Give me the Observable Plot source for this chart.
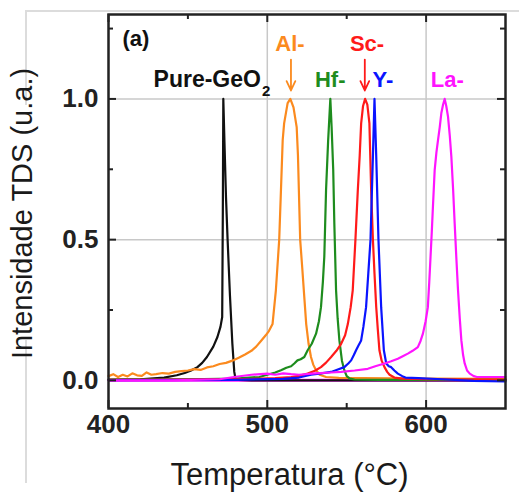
<!DOCTYPE html>
<html>
<head>
<meta charset="utf-8">
<script src="https://cdn.jsdelivr.net/npm/d3@7"></script>
<script src="https://cdn.jsdelivr.net/npm/@observablehq/plot@0.6"></script>
<style>
  html, body { margin: 0; padding: 0; background: #fff; }
  #wrap { position: relative; width: 519px; height: 502px; font-family: "Liberation Sans", Arial, sans-serif; }
  #edgeTop { position: absolute; left: 25px; top: 10px; width: 494px; height: 93px; border-left: 2px solid #dcdcdc; border-top: 2px solid #dcdcdc; }
  #edgeLow { position: absolute; left: 25px; top: 340px; width: 0; height: 143px; border-left: 2px solid #dcdcdc; }
  #chart { position: absolute; left: 0; top: 0; }
</style>
</head>
<body>
<div id="wrap"><div id="edgeTop"></div><div id="edgeLow"></div><div id="chart"></div></div>
<script>
// Pure-GeO2 (black)
const tempPure = [400, 420, 435, 443, 448, 452, 456, 459, 462, 466, 468.6, 470.5, 471.6, 472, 472.3, 473, 474, 475, 476.5, 478, 479.2, 480, 482, 490, 520, 560, 600, 650];
const intPure  = [0.002, 0.004, 0.01, 0.018, 0.026, 0.035, 0.047, 0.062, 0.083, 0.12, 0.154, 0.19, 0.225, 0.6, 1.0, 0.85, 0.65, 0.5, 0.3, 0.13, 0.03, 0.005, 0.002, 0, 0, 0, 0, 0];
// Al- (orange)
const tempAl = [400, 403, 406, 409, 412, 415, 418, 421, 424, 427, 430, 434, 438, 442, 446, 450, 454, 458, 462, 466, 470, 474, 478, 482, 486, 490, 493, 496, 499, 501, 503.3, 505.4, 507.5, 508.6, 509.7, 510.6, 512.8, 514.5, 516.5, 518.5, 519.3, 520, 520.7, 522, 523.5, 524.5, 526, 527.5, 529, 530.7, 533, 537, 545, 560, 600, 650];
const intAl  = [0.015, 0.022, 0.012, 0.02, 0.014, 0.025, 0.018, 0.016, 0.028, 0.02, 0.022, 0.026, 0.024, 0.03, 0.033, 0.035, 0.04, 0.037, 0.046, 0.05, 0.058, 0.062, 0.07, 0.08, 0.092, 0.105, 0.12, 0.14, 0.16, 0.175, 0.2, 0.32, 0.5, 0.676, 0.854, 0.913, 0.985, 1.0, 0.97, 0.9, 0.8, 0.65, 0.5, 0.4, 0.28, 0.2, 0.13, 0.083, 0.055, 0.036, 0.02, 0.012, 0.009, 0.008, 0.006, 0.005];
// Hf- (green)
const tempHf = [400, 450, 480, 495, 500, 505, 508.6, 512, 515, 517, 519, 521, 523.3, 525.4, 528, 530.7, 532.5, 533.8, 535, 535.9, 537, 538.3, 539.7, 540.5, 541.5, 542.2, 543.3, 544.3, 545.4, 547, 548.5, 550, 552, 555, 570, 600, 650];
const intHf  = [0.003, 0.004, 0.006, 0.012, 0.02, 0.028, 0.036, 0.045, 0.05, 0.06, 0.071, 0.075, 0.083, 0.107, 0.13, 0.166, 0.21, 0.26, 0.35, 0.44, 0.676, 0.85, 1.0, 0.9, 0.75, 0.56, 0.32, 0.22, 0.142, 0.07, 0.036, 0.015, 0.006, 0.003, 0.002, 0.002, 0.002];
// Sc- (red)
const tempSc = [400, 450, 490, 505, 515, 520, 525.4, 530, 533.8, 537, 540.2, 543.5, 546.5, 549, 550.7, 552.5, 553.8, 555.5, 557, 558.2, 559.1, 560.3, 561.6, 563, 564.3, 565.4, 566.5, 567.5, 568.6, 569.6, 570.6, 572, 573.8, 575.5, 577, 580, 585, 600, 650];
const intSc  = [0.002, 0.003, 0.005, 0.008, 0.012, 0.016, 0.024, 0.034, 0.047, 0.063, 0.083, 0.105, 0.13, 0.16, 0.2, 0.26, 0.32, 0.5, 0.676, 0.8, 0.913, 0.975, 1.0, 0.98, 0.913, 0.676, 0.5, 0.38, 0.26, 0.18, 0.107, 0.07, 0.047, 0.03, 0.02, 0.01, 0.006, 0.004, 0.003];
// Y- (blue)
const tempY = [400, 480, 510, 520, 527.5, 534, 540.2, 544, 548.5, 551, 552.8, 554.5, 555.9, 557.5, 559.1, 560.5, 562.2, 563.6, 565, 566.5, 567.5, 568.6, 570, 571.7, 573.4, 574.9, 576.5, 578, 580, 582.2, 585, 587, 595, 610, 630, 650];
const intY  = [0.001, 0.002, 0.005, 0.01, 0.02, 0.025, 0.03, 0.038, 0.047, 0.06, 0.071, 0.09, 0.107, 0.125, 0.142, 0.19, 0.26, 0.38, 0.5, 0.795, 1.0, 0.795, 0.5, 0.26, 0.107, 0.06, 0.05, 0.047, 0.035, 0.024, 0.015, 0.01, 0.008, 0.004, -0.002, -0.004];
// La- (magenta)
const tempLa = [400, 440, 470, 479, 490, 500, 505, 510, 515, 520, 530, 540, 546.5, 555, 563.3, 568, 573.8, 578, 582.2, 585, 588.5, 591.5, 594.8, 596.5, 598, 599.7, 601.1, 602, 602.8, 603.6, 604.3, 605.4, 606.5, 607.5, 608.6, 609.6, 610.7, 611.7, 612.7, 613.8, 614.9, 615.9, 617, 618, 619, 620.1, 621.2, 622.2, 623.3, 624.3, 625.8, 627.5, 630, 632, 640, 650];
const intLa  = [0, 0, 0.004, 0.012, 0.02, 0.024, 0.02, 0.025, 0.022, 0.02, 0.025, 0.028, 0.03, 0.035, 0.041, 0.05, 0.06, 0.068, 0.077, 0.085, 0.095, 0.105, 0.118, 0.14, 0.166, 0.21, 0.26, 0.35, 0.44, 0.53, 0.617, 0.747, 0.81, 0.854, 0.9, 0.95, 0.98, 1.0, 0.975, 0.937, 0.87, 0.795, 0.68, 0.557, 0.44, 0.32, 0.22, 0.142, 0.09, 0.06, 0.035, 0.024, 0.015, 0.012, 0.012, 0.012];

const seriesNames  = ["Pure-GeO2", "Al-", "Hf-", "Sc-", "Y-", "La-"];
const seriesColors = ["#111111", "#fb8a1e", "#1e8c1e", "#ff1a1a", "#0a14ff", "#ff14ff"];
const seriesTemps  = [tempPure, tempAl, tempHf, tempSc, tempY, tempLa];
const seriesInts   = [intPure, intAl, intHf, intSc, intY, intLa];

// annotation labels
const labelTexts  = ["Al-", "Sc-", "Hf-", "Y-", "La-"];
const labelColors = ["#fb8a1e", "#ff1a1a", "#1e8c1e", "#0a14ff", "#ff14ff"];
const labelX = [514.3, 562.8, 539.6, 572.8, 613.3];
const labelY = [1.196, 1.196, 1.068, 1.068, 1.068];
const pureLabelX = 496, pureLabelY = 1.068, pureSubX = 499.3, pureSubY = 1.028;
const panelX = 408.8, panelY = 1.214;
const arrowX = [514.9, 561.4];
const arrowColors = ["#fb8a1e", "#ff1a1a"];
const arrowTop = 1.14, arrowTip = 1.03;

const xMajor = [400, 500, 600];
const xMinor = [450, 550];
const yMajor = [0, 0.5, 1.0];
const yMinor = [0.25, 0.75, 1.25];
const xGrid = [500, 600];
const yGrid = [0.5, 1.0];
const yTickLabels = ["0.0", "0.5", "1.0"];
const xTitle = "Temperatura (°C)";
const yTitle = "Intensidade TDS (u.a.)";

const rows = [];
seriesNames.forEach((name, i) => {
  seriesTemps[i].forEach((t, j) => rows.push({series: name, order: i, t, v: seriesInts[i][j]}));
});

const font = "Liberation Sans, Arial, sans-serif";
const W = 519, H = 502, mL = 108, mR = 14, mT = 14, mB = 94;
const fw = W - mL - mR, fh = H - mT - mB;
const majorLen = 8, minorLen = 5;
const tk = {stroke: "#222", strokeWidth: 2};

const lineMarks = seriesNames.map((name, i) =>
  Plot.line(rows.filter(r => r.series === name), {x: "t", y: "v", stroke: seriesColors[i], strokeWidth: 2.2, strokeLinejoin: "round"})
);

const chart = Plot.plot({
  width: W,
  height: H,
  marginLeft: mL,
  marginRight: mR,
  marginTop: mT,
  marginBottom: mB,
  style: {fontFamily: font, background: "transparent", overflow: "visible"},
  x: {domain: [400, 650], axis: null},
  y: {domain: [-0.1, 1.3], axis: null},
  marks: [
    Plot.gridX(xGrid, {stroke: "#c8c8c8", strokeOpacity: 1, strokeWidth: 1.5}),
    Plot.gridY(yGrid, {stroke: "#c8c8c8", strokeOpacity: 1, strokeWidth: 1.5}),
    Plot.ruleY([0], {stroke: "#ff14ff", strokeWidth: 3}),
    ...lineMarks,
    Plot.arrow(arrowX, {x1: d => d, x2: d => d, y1: () => arrowTop, y2: () => arrowTip, stroke: (d, i) => arrowColors[i], strokeWidth: 1.8, headLength: 9, headAngle: 50}),
    Plot.text(labelTexts, {x: (d, i) => labelX[i], y: (d, i) => labelY[i], text: d => d, fill: (d, i) => labelColors[i], fontSize: 22, fontWeight: "bold"}),
    Plot.text(["Pure-GeO"], {x: () => pureLabelX, y: () => pureLabelY, text: d => d, textAnchor: "end", fill: "#111", fontSize: 23, fontWeight: "bold"}),
    Plot.text(["2"], {x: () => pureSubX, y: () => pureSubY, text: d => d, fill: "#111", fontSize: 15, fontWeight: "bold"}),
    Plot.text(["(a)"], {x: () => panelX, y: () => panelY, text: d => d, textAnchor: "start", fill: "#111", fontSize: 22, fontWeight: "bold"}),
    // inward ticks on all four sides
    Plot.tickX(xMajor, {x: d => d, insetTop: fh - majorLen, ...tk}),
    Plot.tickX(xMinor, {x: d => d, insetTop: fh - minorLen, ...tk}),
    Plot.tickX(xMajor, {x: d => d, insetBottom: fh - majorLen, ...tk}),
    Plot.tickX(xMinor, {x: d => d, insetBottom: fh - minorLen, ...tk}),
    Plot.tickY(yMajor, {y: d => d, insetRight: fw - majorLen, ...tk}),
    Plot.tickY(yMinor, {y: d => d, insetRight: fw - minorLen, ...tk}),
    Plot.tickY(yMajor, {y: d => d, insetLeft: fw - majorLen, ...tk}),
    Plot.tickY(yMinor, {y: d => d, insetLeft: fw - minorLen, ...tk}),
    Plot.text(xMajor, {x: d => d, text: d => String(d), frameAnchor: "bottom", dy: 24, fontSize: 26, fontWeight: "bold", fill: "#222"}),
    Plot.text(yMajor, {y: d => d, text: (d, i) => yTickLabels[i], frameAnchor: "left", textAnchor: "end", dx: -10, fontSize: 26, fontWeight: "bold", fill: "#222"}),
    Plot.text([xTitle], {x: () => 514, text: d => d, frameAnchor: "bottom", dy: 76, fontSize: 31, fill: "#1a1a1a"}),
    Plot.text([yTitle], {y: () => 0.593, text: d => d, frameAnchor: "left", textAnchor: "middle", dx: -86, rotate: -90, fontSize: 29, fill: "#1a1a1a"}),
    Plot.frame({stroke: "#222", strokeWidth: 2.5})
  ]
});
document.getElementById("chart").appendChild(chart);
</script>
</body>
</html>
